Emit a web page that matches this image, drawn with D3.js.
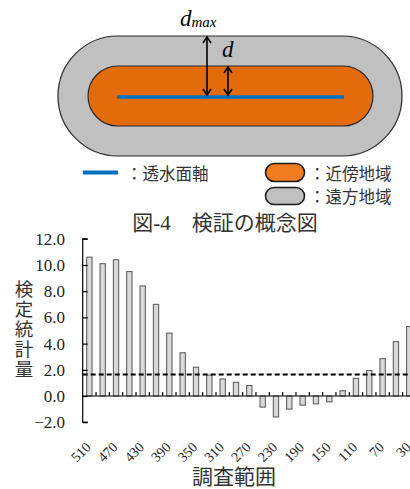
<!DOCTYPE html>
<html>
<head>
<meta charset="utf-8">
<script src="https://cdn.jsdelivr.net/npm/d3@7"></script>
<style>
  html, body { margin: 0; padding: 0; background: #fff; }
  svg { display: block; }
</style>
</head>
<body>
<svg id="fig" width="410" height="489"></svg>
<script>
// Survey ranges (category axis), test statistic per range, and axis ticks
const ranges = [510, 490, 470, 450, 430, 410, 390, 370, 350, 330, 310, 290, 270,
                250, 230, 210, 190, 170, 150, 130, 110, 90, 70, 50, 30];
const statValues = [10.6, 10.1, 10.4, 9.5, 8.4, 7.0, 4.8, 3.3, 2.2, 1.6, 1.3, 1.05, 0.8,
                    -0.85, -1.6, -1.0, -0.7, -0.6, -0.45, 0.4, 1.35, 1.95, 2.85, 4.15, 5.3];
const yTicks = [-2, 0, 2, 4, 6, 8, 10, 12];
const xTickLabels = [510, 470, 430, 390, 350, 310, 270, 230, 190, 150, 110, 70, 30];
const criticalValue = 1.645;

const legendItems = ["：透水面軸", "：近傍地域", "：遠方地域"];
const caption = "図-4　検証の概念図";
const yTitle = "検定統計量";
const xTitle = "調査範囲";

const svg = d3.select("#fig");
const jp = "'Noto Sans CJK JP', 'Noto Sans', sans-serif";
const serif = "'Liberation Serif', 'Times New Roman', serif";
const ink = "#1e1e1e";

// ---- Concept diagram: far zone, near zone and the permeable-plane axis ----
const dia = svg.append("g");
dia.append("rect").attr("x", 58).attr("y", 36).attr("width", 344).attr("height", 120)
  .attr("rx", 60).attr("fill", "#c0c0c0").attr("stroke", "#2a2a2a").attr("stroke-width", 1.2);
dia.append("rect").attr("x", 88).attr("y", 66).attr("width", 285).attr("height", 60)
  .attr("rx", 30).attr("fill", "#e36c0a").attr("stroke", "#2a2a2a").attr("stroke-width", 1.2);
dia.append("line").attr("x1", 117).attr("x2", 344).attr("y1", 97).attr("y2", 97)
  .attr("stroke", "#0070c0").attr("stroke-width", 3.5);

// double-headed arrows for d_max and d
function dblArrow(x, y1, y2) {
  const g = dia.append("g").attr("stroke", "#000").attr("stroke-width", 1.6).attr("fill", "none");
  g.append("line").attr("x1", x).attr("x2", x).attr("y1", y1).attr("y2", y2);
  g.append("path").attr("d", `M${x - 4},${y1 + 6} L${x},${y1} L${x + 4},${y1 + 6}`);
  g.append("path").attr("d", `M${x - 4},${y2 - 6} L${x},${y2} L${x + 4},${y2 - 6}`);
}
dblArrow(207, 37, 95);
dblArrow(228, 67, 95);

const dmax = dia.append("text").attr("x", 180).attr("y", 26)
  .attr("font-family", serif).attr("font-style", "italic").attr("fill", "#000");
dmax.append("tspan").attr("font-size", 23).text("d");
dmax.append("tspan").attr("font-size", 15).attr("dy", 1).text("max");
dia.append("text").attr("x", 222).attr("y", 57)
  .attr("font-family", serif).attr("font-style", "italic").attr("font-size", 23)
  .attr("fill", "#000").text("d");

// ---- Legend ----
const leg = svg.append("g");
leg.append("line").attr("x1", 83).attr("x2", 118).attr("y1", 172.5).attr("y2", 172.5)
  .attr("stroke", "#0070c0").attr("stroke-width", 4);
leg.append("rect").attr("x", 265.5).attr("y", 163.5).attr("width", 39).attr("height", 18)
  .attr("rx", 9).attr("fill", "#f07c1e").attr("stroke", "#1a1a1a").attr("stroke-width", 1.6);
leg.append("rect").attr("x", 265.5).attr("y", 187.5).attr("width", 39).attr("height", 17)
  .attr("rx", 8.5).attr("fill", "#c0c0c0").attr("stroke", "#1a1a1a").attr("stroke-width", 1.6);
const legPos = [[126, 179.5], [309, 179.5], [309, 203]];
legendItems.forEach((t, i) => {
  leg.append("text").attr("x", legPos[i][0]).attr("y", legPos[i][1])
    .attr("font-family", jp).attr("font-size", 16.5).attr("fill", "#333").text(t);
});

svg.append("text").attr("x", 225).attr("y", 230).attr("text-anchor", "middle")
  .attr("font-family", serif + ", " + jp).attr("font-size", 21).attr("fill", "#333")
  .text(caption);

// ---- Bar chart of the test statistic ----
const x0 = 82.7, step = 13.33;
const x = d3.scaleBand().domain(ranges)
  .range([x0, x0 + step * ranges.length]).paddingInner(0.6).paddingOuter(0.3);
const y = d3.scaleLinear().domain([-2, 12]).range([422.2, 238.8]);

const chart = svg.append("g");

chart.selectAll("rect.bar").data(ranges).enter().append("rect").attr("class", "bar")
  .attr("x", d => x(d))
  .attr("width", x.bandwidth())
  .attr("y", (d, i) => y(Math.max(0, statValues[i])))
  .attr("height", (d, i) => Math.abs(y(statValues[i]) - y(0)))
  .attr("fill", "#d9d9d9").attr("stroke", "#555").attr("stroke-width", 1);

// y axis with inward ticks
const yAxis = chart.append("g").attr("transform", `translate(${x0},0)`)
  .call(d3.axisRight(y).tickValues(yTicks).tickSize(5).tickFormat(""));
yAxis.select(".domain").attr("d", `M5,${y(12)}H0V${y(-2)}H5`).attr("stroke", "#000").attr("stroke-width", 1.2);
yAxis.selectAll(".tick line").attr("stroke", "#000").attr("stroke-width", 1.2);
chart.selectAll("text.ylab").data(yTicks).enter().append("text").attr("class", "ylab")
  .attr("x", 65).attr("y", d => y(d)).attr("dy", "0.35em").attr("text-anchor", "end")
  .attr("font-family", serif).attr("font-size", 17).attr("fill", ink)
  .text(d => d3.format(".1f")(d));

// zero line with upward ticks at category boundaries
chart.append("line").attr("x1", x0).attr("x2", 410).attr("y1", y(0)).attr("y2", y(0))
  .attr("stroke", "#000").attr("stroke-width", 1.2);
chart.selectAll("line.bound").data(ranges.slice(1)).enter().append("line").attr("class", "bound")
  .attr("x1", d => x(d) - x.step() * x.paddingInner() / 2)
  .attr("x2", d => x(d) - x.step() * x.paddingInner() / 2)
  .attr("y1", y(0)).attr("y2", y(0) - 4)
  .attr("stroke", "#000").attr("stroke-width", 1.2);

// significance threshold
chart.append("line").attr("x1", x0).attr("x2", 410)
  .attr("y1", y(criticalValue)).attr("y2", y(criticalValue))
  .attr("stroke", "#000").attr("stroke-width", 2).attr("stroke-dasharray", "5,3");

// rotated category labels
chart.selectAll("text.xlab").data(xTickLabels).enter().append("text").attr("class", "xlab")
  .attr("transform", d => `translate(${x(d) + x.bandwidth() / 2 + 2.3},448) rotate(-45)`)
  .attr("text-anchor", "end")
  .attr("font-family", serif).attr("font-size", 14).attr("fill", ink)
  .text(d => d);

// axis titles: vertical y title set top-to-bottom
chart.append("text").attr("x", 24).attr("y", 280)
  .style("writing-mode", "vertical-rl").attr("letter-spacing", 1.5)
  .attr("font-family", jp).attr("font-size", 18.5)
  .attr("fill", "#333").text(yTitle);
chart.append("text").attr("x", 234).attr("y", 484).attr("text-anchor", "middle")
  .attr("font-family", jp).attr("font-size", 21).attr("fill", "#333").text(xTitle);
</script>
</body>
</html>
